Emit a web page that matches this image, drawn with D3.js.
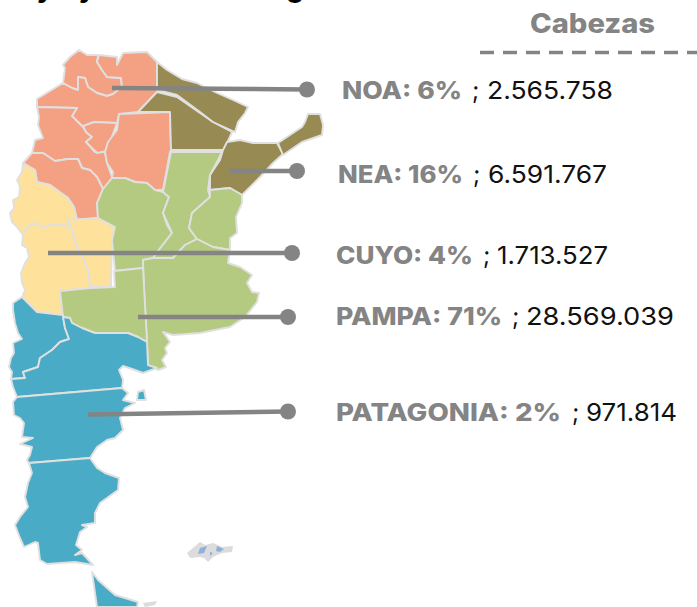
<!DOCTYPE html>
<html><head><meta charset="utf-8">
<script src="https://cdn.jsdelivr.net/npm/d3@7"></script>
<style>html,body{margin:0;padding:0;background:#fff}svg{display:block}</style>
</head><body><div id="c"></div>
<script>
// Province outlines in map units
const noaProvinces = [
 [[79,50],[87,55],[98,55],[97,62],[102,70],[107,77],[121,78],[122,87],[113,94],[107,96],[97,93],[88,87],[85,78],[78,77],[78,90],[72,88],[63,83],[65,68],[63,65],[70,57]],
 [[63,83],[72,88],[78,90],[78,77],[85,78],[88,87],[97,93],[107,96],[113,94],[122,87],[121,78],[107,77],[102,70],[97,62],[99,55],[117,57],[117,65],[123,53],[147,52],[157,62],[157,92],[138,112],[119,114],[117,123],[94,122],[83,127],[72,116],[77,108],[37,107],[37,99]],
 [[37,107],[77,108],[72,116],[83,127],[86,132],[92,137],[86,142],[95,152],[105,152],[107,163],[112,177],[111,187],[103,189],[97,177],[90,170],[82,168],[78,159],[68,159],[55,161],[43,153],[32,153],[35,140],[43,138],[38,125],[39,117]],
 [[83,126],[94,122],[117,123],[110,142],[107,151],[97,153],[86,142],[92,137],[86,132]],
 [[119,114],[170,112],[171,150],[170,152],[163,190],[155,190],[147,183],[135,182],[125,178],[112,178],[113,172],[107,163],[105,152],[108,142],[117,130]],
 [[32,153],[43,153],[55,161],[68,159],[78,159],[82,168],[90,170],[97,177],[103,189],[97,203],[98,218],[77,220],[74,207],[68,198],[50,185],[37,182],[35,170],[23,163]]
];
const neaProvinces = [
 [[138,112],[157,92],[177,97],[200,113],[213,122],[232,132],[224,150],[171,150],[170,112]],
 [[157,62],[167,70],[182,79],[197,83],[217,93],[233,100],[248,107],[245,113],[238,122],[235,132],[213,122],[200,112],[177,95],[157,90]],
 [[227,142],[240,140],[253,143],[277,143],[283,154],[273,163],[260,177],[242,195],[230,188],[210,190],[210,175],[220,160],[223,150]],
 [[278,143],[290,135],[302,127],[305,122],[308,114],[320,114],[323,125],[322,135],[302,142],[283,155]]
];
const cuyoProvinces = [
 [[23,163],[35,170],[37,182],[50,185],[68,198],[74,207],[77,220],[68,220],[71,227],[60,225],[50,225],[43,228],[35,223],[28,227],[23,235],[17,227],[12,222],[10,213],[14,208],[13,200],[19,197],[20,187],[17,180],[22,172]],
 [[68,220],[98,218],[115,227],[112,240],[111,287],[90,287],[88,270],[83,258],[77,248],[73,233]],
 [[23,235],[28,227],[35,223],[43,228],[50,225],[60,225],[71,227],[77,248],[83,258],[88,270],[90,288],[60,291],[63,315],[37,312],[22,297],[25,290],[22,283],[21,273],[25,263],[29,257],[27,248],[22,245]]
];
const pampaProvinces = [
 [[103,189],[112,178],[125,178],[135,182],[147,183],[155,190],[163,192],[169,197],[163,213],[167,225],[172,233],[158,251],[153,258],[143,260],[143,268],[115,271],[112,240],[115,227],[98,218],[97,203]],
 [[171,152],[222,152],[218,160],[210,175],[208,190],[210,197],[192,213],[189,228],[197,239],[185,245],[173,258],[153,258],[158,251],[172,233],[163,213],[169,197],[163,192]],
 [[210,190],[230,188],[242,195],[242,203],[236,217],[237,233],[230,238],[230,250],[213,247],[197,239],[189,228],[192,213],[210,197]],
 [[143,260],[153,258],[173,258],[185,245],[197,239],[213,247],[230,250],[228,263],[240,267],[252,275],[247,283],[252,292],[259,293],[257,302],[245,317],[230,327],[200,333],[173,335],[163,332],[170,342],[165,348],[167,353],[162,360],[166,367],[158,370],[148,365],[147,342],[144,290]],
 [[60,291],[90,288],[115,287],[114,271],[143,268],[147,342],[138,337],[128,333],[95,333],[82,328],[72,323],[70,318],[63,317]]
];
const patagoniaProvinces = [
 [[22,297],[37,312],[63,315],[65,328],[69,339],[60,342],[52,350],[40,358],[38,367],[23,372],[25,378],[11,379],[12,372],[9,367],[11,358],[14,353],[13,343],[22,339],[18,333],[15,323],[13,310],[13,303]],
 [[63,317],[70,318],[72,323],[82,328],[95,333],[128,333],[138,337],[147,342],[148,365],[157,368],[143,373],[132,369],[123,366],[119,370],[123,380],[122,388],[17,397],[13,387],[11,379],[25,378],[23,372],[38,367],[40,358],[52,350],[60,342],[69,339],[65,328]],
 [[17,397],[122,388],[128,393],[123,400],[135,403],[125,408],[120,418],[123,430],[115,438],[107,440],[97,447],[90,458],[29,463],[27,460],[30,455],[32,447],[20,444],[33,438],[22,437],[24,423],[20,418],[14,415],[13,402]],
 [[138,392],[144,390],[146,400],[137,400]],
 [[29,463],[90,458],[97,468],[105,473],[119,478],[118,490],[100,503],[95,513],[95,523],[82,525],[87,527],[80,532],[76,545],[82,550],[75,555],[82,553],[93,565],[75,562],[47,564],[40,560],[38,543],[35,542],[24,547],[20,538],[15,525],[20,517],[28,507],[25,497],[28,483],[32,473]],
 [[92,572],[98,580],[115,595],[138,602],[137,607],[97,607]]
];
const greyIslands = [
 [[143,603],[157,601],[155,605],[145,607]],
 [[187,553],[193,548],[200,542],[205,545],[213,543],[222,547],[233,546],[232,552],[222,553],[213,557],[208,562],[204,558],[200,557],[190,558]]
];
const blueLakes = [
 [[200,548],[207,546],[204,553],[198,554]],
 [[217,546],[224,549],[220,552],[216,551]],
 [[210,552],[213,553],[210,556]]
];
const regionNames = ["NOA","NEA","CUYO","PAMPA","PATAGONIA"];
const regionShares = [6,16,4,71,2];
const regionHeads = ["2.565.758","6.591.767","1.713.527","28.569.039","971.814"];
const regionColors = ["#f4a083","#978a52","#fee29b","#b4ca81","#4aabc6"];
const regionPolys = [noaProvinces,neaProvinces,cuyoProvinces,pampaProvinces,patagoniaProvinces];
const leaderStart = [[112,88],[230,171],[48,253],[138,317],[88,414.5]];
const leaderEnd = [[307,89.5],[297,171],[292,253],[288,317],[288,411.5]];
const labelX = [[342,462,472,487,613],[338,463,473,488,607],[336,473,483,497,608],[336,502,512,526,674],[336,561,572,586,677]];
const labelY = [99,182.5,263.5,325,421];
const titleGlyphs = ["y","y","g"];
const titleGlyphX = [45,87,295];

const W=697,H=607;
const svg=d3.select("#c").append("svg").attr("width",W).attr("height",H);
const path=d3.geoPath(d3.geoIdentity());
const poly=c=>({type:"Polygon",coordinates:[[...c,c[0]]]});
const mapG=svg.append("g");
mapG.selectAll("path.isl").data(greyIslands).join("path").attr("class","isl").attr("d",d=>path(poly(d))).attr("fill","#dcdcdc");
mapG.selectAll("path.lake").data(blueLakes).join("path").attr("class","lake").attr("d",d=>path(poly(d))).attr("fill","#8fb0d8");
regionPolys.forEach((ps,i)=>{
  mapG.append("g").selectAll("path").data(ps).join("path")
   .attr("d",d=>path(poly(d))).attr("fill",regionColors[i])
   .attr("stroke","#e0e0e0").attr("stroke-width",1.9).attr("stroke-linejoin","round");
});
const F="Inter, 'Noto Sans', sans-serif";
// Only the descenders of the title survive at the top edge of the picture
svg.append("g").selectAll("text").data(titleGlyphs).join("text")
 .attr("x",(d,i)=>titleGlyphX[i]).attr("y",-3.5).attr("text-anchor","middle")
 .attr("font-family",F).attr("font-weight",700).attr("font-size",28).attr("fill","#000").text(d=>d);
svg.append("text").attr("x",530).attr("y",33).attr("font-family",F).attr("font-weight",800).attr("font-size",27)
 .attr("fill","#848484").attr("textLength",125).attr("lengthAdjust","spacingAndGlyphs").text("Cabezas");
svg.append("line").attr("x1",480).attr("x2",697).attr("y1",52.5).attr("y2",52.5).attr("stroke","#848484").attr("stroke-width",3.5).attr("stroke-dasharray","14 9");
const idx=d3.range(regionNames.length);
svg.append("g").selectAll("line").data(idx).join("line")
 .attr("x1",i=>leaderStart[i][0]).attr("y1",i=>leaderStart[i][1]).attr("x2",i=>leaderEnd[i][0]).attr("y2",i=>leaderEnd[i][1])
 .attr("stroke","#848484").attr("stroke-width",4.5);
svg.append("g").selectAll("circle").data(idx).join("circle")
 .attr("cx",i=>leaderEnd[i][0]).attr("cy",i=>leaderEnd[i][1]).attr("r",8).attr("fill","#848484");
const lab=svg.append("g").attr("font-family",F).attr("font-size",24);
lab.selectAll("text.b").data(idx).join("text").attr("class","b")
 .attr("x",i=>labelX[i][0]).attr("y",i=>labelY[i]).attr("font-weight",800).attr("fill","#848484")
 .attr("textLength",i=>labelX[i][1]-labelX[i][0]).attr("lengthAdjust","spacingAndGlyphs")
 .text(i=>`${regionNames[i]}: ${regionShares[i]}%`);
lab.selectAll("text.s").data(idx).join("text").attr("class","s")
 .attr("x",i=>labelX[i][2]).attr("y",i=>labelY[i]).attr("font-weight",400).attr("fill","#111").text(";");
lab.selectAll("text.v").data(idx).join("text").attr("class","v")
 .attr("x",i=>labelX[i][3]).attr("y",i=>labelY[i]).attr("font-weight",400).attr("fill","#111")
 .attr("textLength",i=>labelX[i][4]-labelX[i][3]).attr("lengthAdjust","spacingAndGlyphs")
 .text(i=>regionHeads[i]);
</script></body></html>
